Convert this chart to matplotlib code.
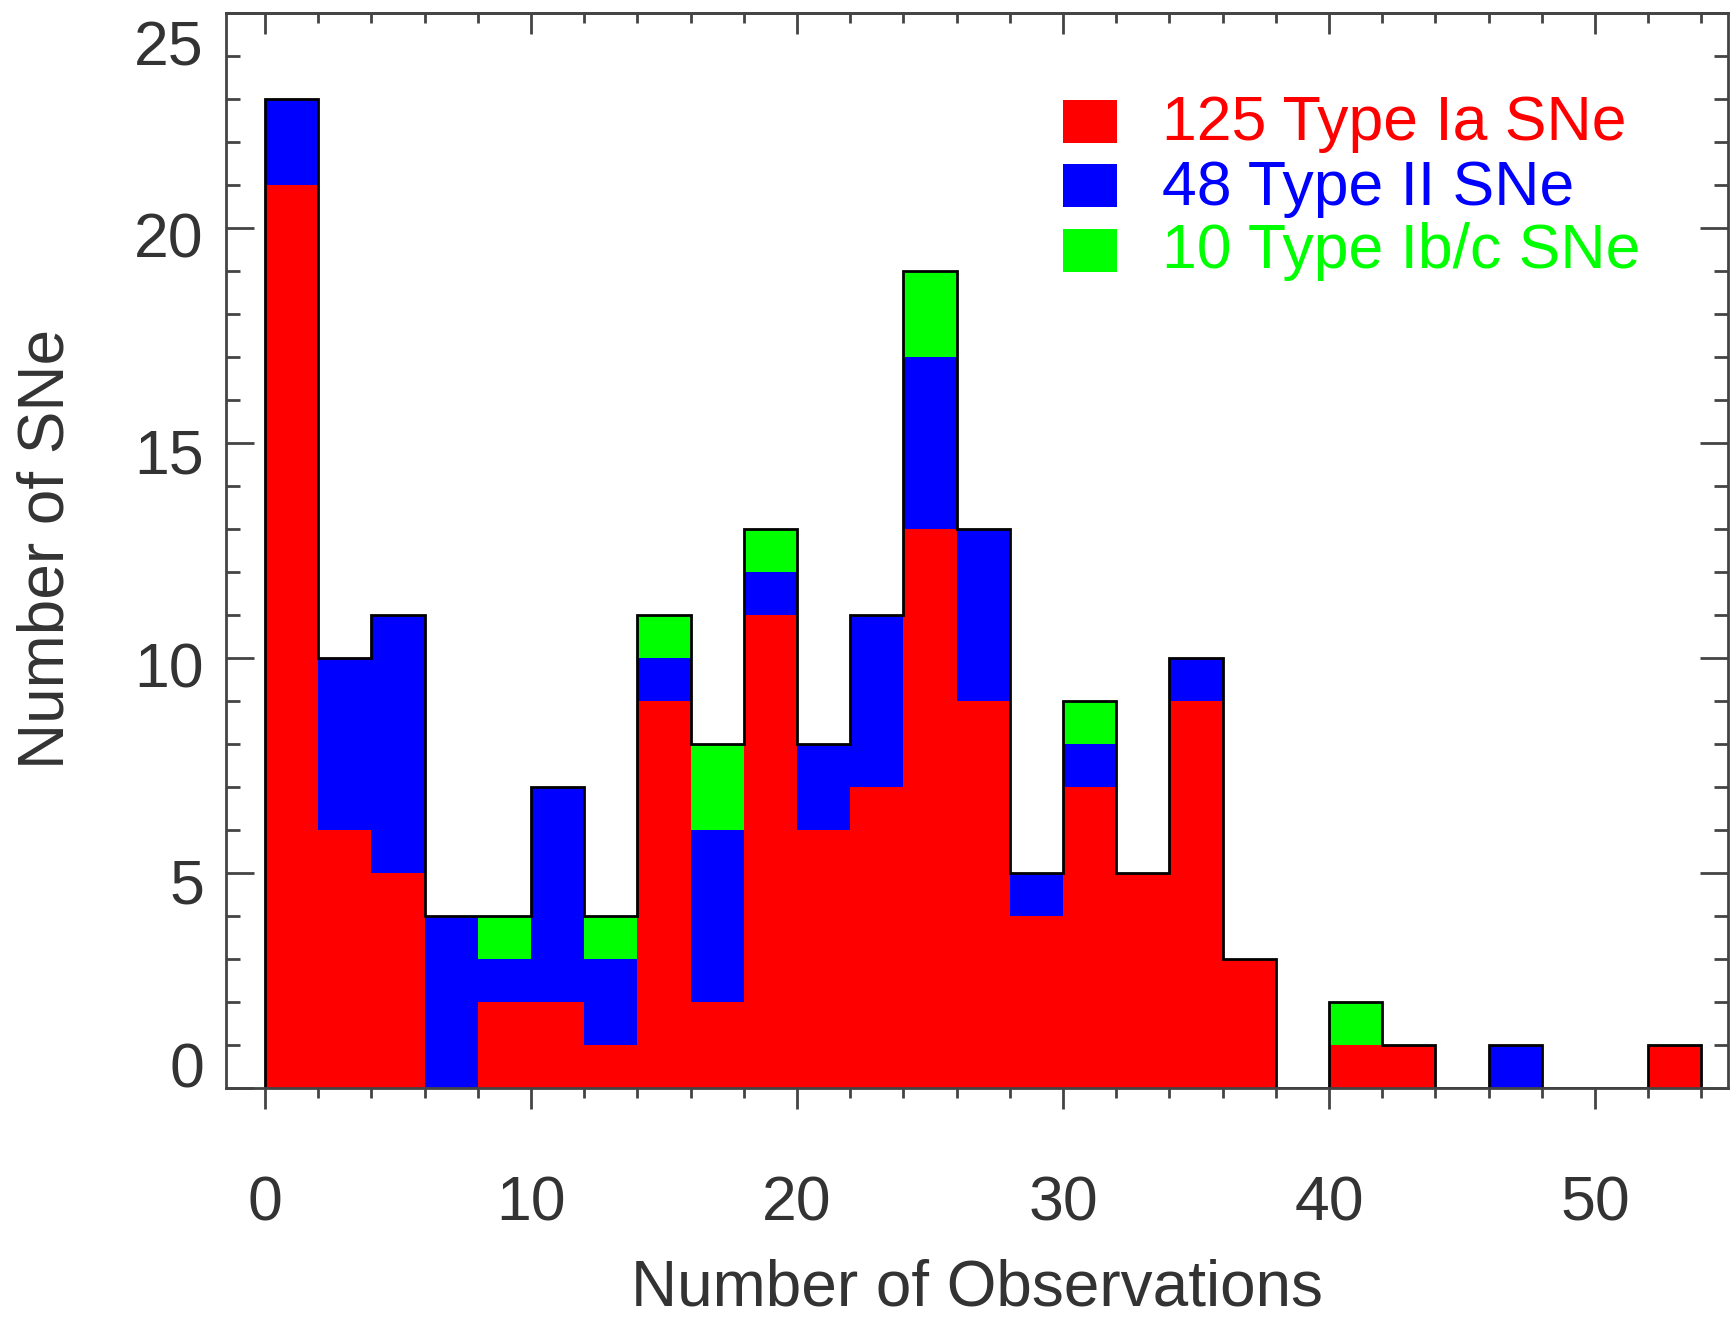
import numpy as np
import matplotlib
matplotlib.use("Agg")
import matplotlib.pyplot as plt
import matplotlib.transforms as mtransforms
from matplotlib.patches import Rectangle
from matplotlib.ticker import MultipleLocator, FixedLocator

plt.rcParams['font.family'] = ['Liberation Sans', 'DejaVu Sans']

# ---- data (bins of width 2 from 0 to 54) ----
bin_edges = np.arange(0, 56, 2)
type_ia = [21, 6, 5, 0, 2, 2, 1, 9, 2, 11, 6, 7, 13, 9, 4, 7, 5, 9, 3, 0, 1, 1, 0, 0, 0, 0, 1]
type_ii = [2, 4, 6, 4, 1, 5, 2, 1, 4, 1, 2, 4, 4, 4, 1, 1, 0, 1, 0, 0, 0, 0, 0, 1, 0, 0, 0]
type_ibc = [0, 0, 0, 0, 1, 0, 1, 1, 2, 1, 0, 0, 2, 0, 0, 1, 0, 0, 0, 0, 1, 0, 0, 0, 0, 0, 0]
legend_labels = ["125 Type Ia SNe", "48 Type II SNe", "10 Type Ib/c SNe"]
colors = ["#FF0000", "#0000FF", "#00FF00"]
x_ticks = [0, 10, 20, 30, 40, 50]
y_ticks = [0, 5, 10, 15, 20, 25]

W, H = 1730, 1319
fig = plt.figure(figsize=(W / 100, H / 100), dpi=100)
ax = fig.add_axes([226 / W, (H - 1088) / H, (1728 - 226) / W, (1088 - 13) / H])

ia = np.array(type_ia)
ii = np.array(type_ii)
ibc = np.array(type_ibc)
lefts = bin_edges[:-1]
ax.bar(lefts, ia, width=2, align='edge', color=colors[0], linewidth=0)
ax.bar(lefts, ii, width=2, align='edge', bottom=ia, color=colors[1], linewidth=0)
ax.bar(lefts, ibc, width=2, align='edge', bottom=ia + ii, color=colors[2], linewidth=0)
total = ia + ii + ibc
ax.stairs(total, bin_edges, color='black', linewidth=2, baseline=0, zorder=3)

ax.set_xlim(-1.47, 55)
ax.set_ylim(0, 25)

spine_col = '#444444'
text_col = '#333333'
for s in ax.spines.values():
    s.set_color(spine_col)
    s.set_linewidth(2)
    s.set_zorder(4)

# x axis: bottom ticks outward with labels
ax.xaxis.set_major_locator(FixedLocator(x_ticks))
ax.xaxis.set_minor_locator(MultipleLocator(2))
ax.set_xticklabels([str(v) for v in x_ticks])
ax.tick_params(axis='x', which='major', direction='out', length=15, width=2,
               color=spine_col, labelsize=45, labelcolor=text_col, pad=47, top=False)
ax.tick_params(axis='x', which='minor', direction='out', length=7.5, width=2,
               color=spine_col, top=False)

# top ticks inward
sec = ax.secondary_xaxis('top')
sec.xaxis.set_major_locator(FixedLocator(x_ticks))
sec.xaxis.set_minor_locator(MultipleLocator(2))
sec.tick_params(axis='x', which='major', direction='in', length=15, width=2,
                color=spine_col, labeltop=False)
sec.tick_params(axis='x', which='minor', direction='in', length=7.5, width=2,
                color=spine_col)
sec.spines['top'].set_color(spine_col)
sec.spines['top'].set_linewidth(2)

# y axis: ticks inward on both sides, labels drawn as texts
ax.yaxis.set_major_locator(FixedLocator(y_ticks))
ax.yaxis.set_minor_locator(MultipleLocator(1))
ax.tick_params(axis='y', which='major', direction='in', length=20, width=2,
               color=spine_col, left=True, right=True, labelleft=False)
ax.tick_params(axis='y', which='minor', direction='in', length=10, width=2,
               color=spine_col, left=True, right=True)

for v in y_ticks:
    if v == y_ticks[0]:
        dy = 0
    elif v == y_ticks[-1]:
        dy = -52
    else:
        dy = -30
    tr = ax.get_yaxis_transform() + mtransforms.ScaledTranslation(-22 / 100, dy / 100, fig.dpi_scale_trans)
    ax.text(0, v, str(v), transform=tr, ha='right', va='baseline',
            fontsize=45, color=text_col)

# axis titles
fig.text(977 / W, (H - 1305) / H, "Number of Observations", ha='center', va='baseline',
         fontsize=46, color=text_col)
fig.text(64 / W, (H - 549) / H, "Number of SNe", rotation=90, rotation_mode='anchor',
         ha='center', va='baseline', fontsize=46, color=text_col)

# legend
sq_tops = [100, 164, 229]
baselines = [140, 205, 268]
for lab, col, top, base in zip(legend_labels, colors, sq_tops, baselines):
    fig.add_artist(Rectangle((1063 / W, (H - top - 43) / H), 54 / W, 43 / H,
                             transform=fig.transFigure, facecolor=col, edgecolor='none'))
    fig.text(1162 / W, (H - base) / H, lab, ha='left', va='baseline',
             fontsize=45, color=col)

fig.savefig("out.png", dpi=100, facecolor='white')
